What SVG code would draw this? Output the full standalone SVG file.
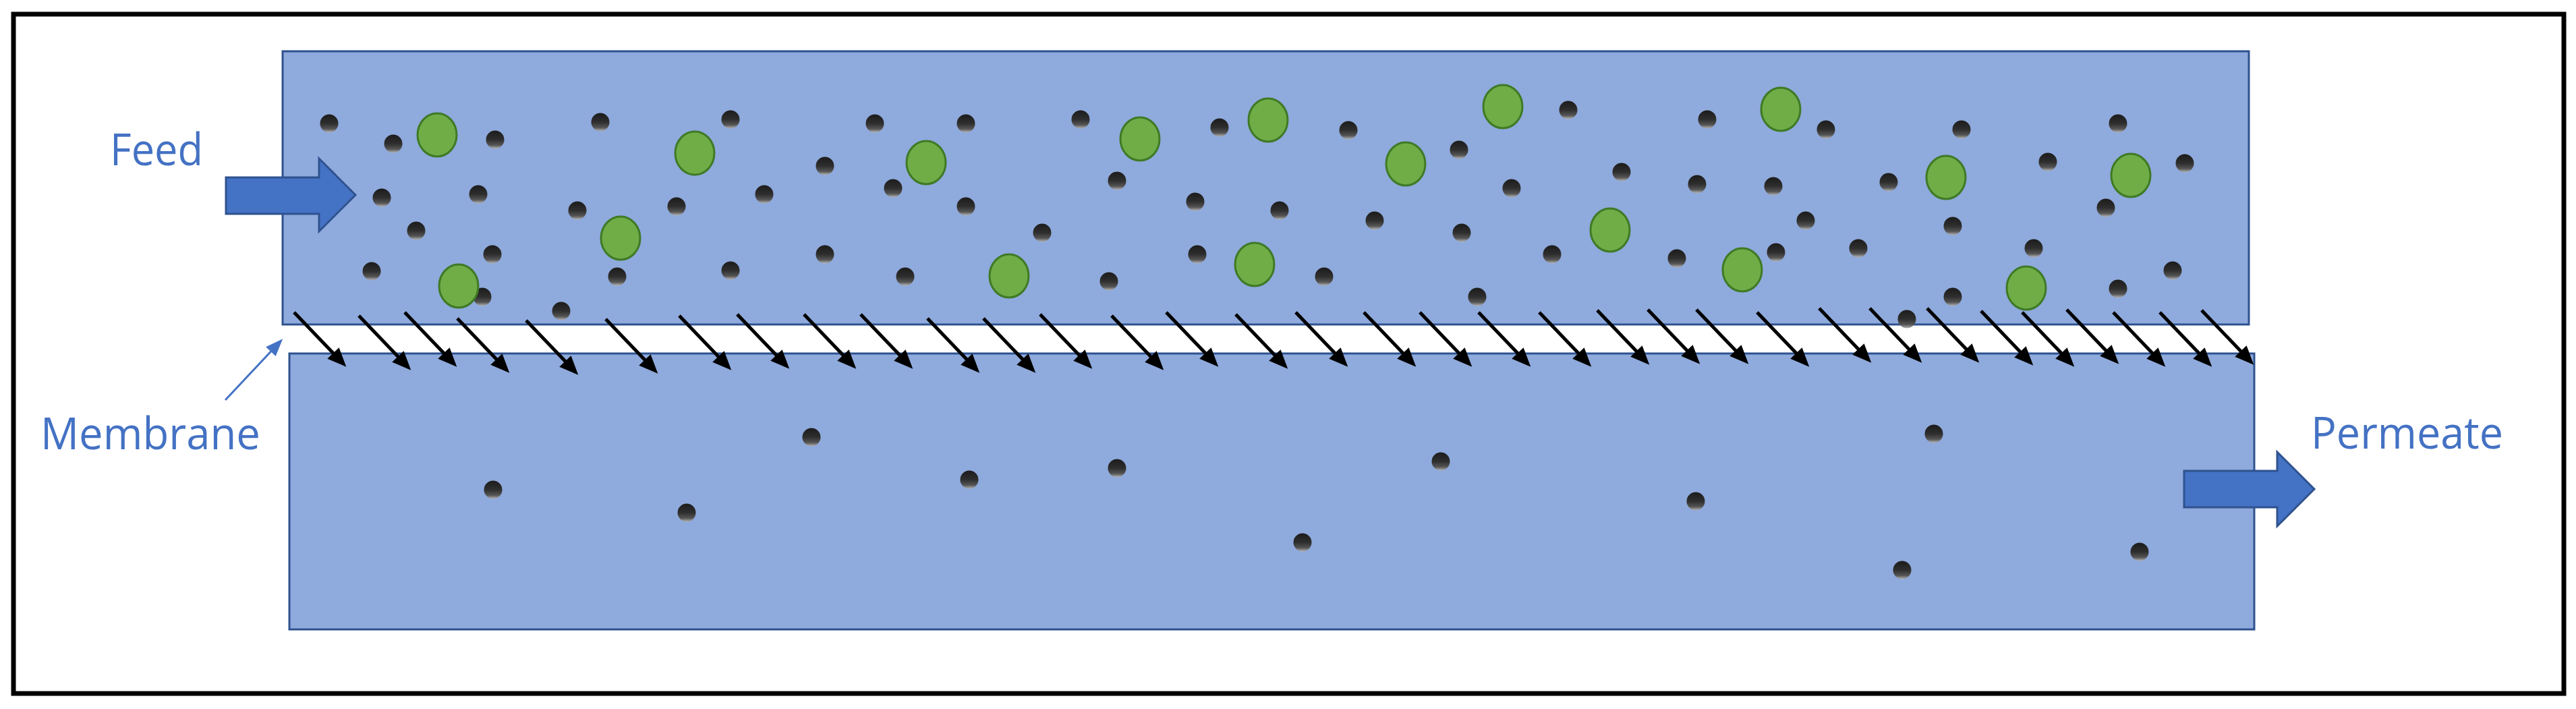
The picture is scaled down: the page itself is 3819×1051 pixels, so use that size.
<svg xmlns="http://www.w3.org/2000/svg" width="3819" height="1051" viewBox="0 0 3819 1051">
<defs>
<linearGradient id="dotg" x1="0" y1="0" x2="0" y2="1">
<stop offset="0" stop-color="#1c1c1c"/>
<stop offset="0.5" stop-color="#2e2e2e"/>
<stop offset="0.8" stop-color="#555"/>
<stop offset="1" stop-color="#b5b5b5"/>
</linearGradient>
<marker id="ah" markerUnits="userSpaceOnUse" markerWidth="44" markerHeight="44" viewBox="-22 -22 44 44" refX="0" refY="0" orient="auto">
<path d="M-16,-12 L12,0 L-16,12 Z" fill="#000"/>
</marker>
<marker id="bh" markerUnits="userSpaceOnUse" markerWidth="40" markerHeight="40" viewBox="-20 -20 40 40" refX="0" refY="0" orient="auto">
<path d="M-14,-10 L12,0 L-14,10 Z" fill="#4472C4"/>
</marker>
</defs>
<style>
.chan{fill:#8FAADC;stroke:#2F528F;stroke-width:3}
.d{fill:url(#dotg)}
.g{fill:#70AD47;stroke:#3F7A26;stroke-width:3}
.lbl{font-family:"Open Sans","Noto Sans","Liberation Sans",sans-serif;fill:#4472C4;font-size:66px}
.blk{fill:#4472C4;stroke:#2F528F;stroke-width:3}
.fl{stroke:#000;stroke-width:5;fill:none;marker-end:url(#ah)}
</style>
<rect x="0" y="0" width="3819" height="1051" fill="#fff"/>
<rect id="frame" x="20" y="21" width="3781" height="1007" fill="none" stroke="#000" stroke-width="7"/>

<g id="feed-channel">
<rect class="chan" x="419" y="76" width="2915" height="405"/>
<g class="d">
<circle cx="488" cy="183" r="13.5"/><circle cx="583" cy="213" r="13.5"/><circle cx="734" cy="207" r="13.5"/><circle cx="890" cy="181" r="13.5"/>
<circle cx="566" cy="293" r="13.5"/><circle cx="709" cy="288" r="13.5"/><circle cx="856" cy="312" r="13.5"/><circle cx="617" cy="342" r="13.5"/>
<circle cx="730" cy="377" r="13.5"/><circle cx="551" cy="402" r="13.5"/><circle cx="715" cy="440" r="13.5"/><circle cx="832" cy="461" r="13.5"/>
<circle cx="1083" cy="177" r="13.5"/><circle cx="1297" cy="183" r="13.5"/><circle cx="1223" cy="246" r="13.5"/><circle cx="1324" cy="279" r="13.5"/>
<circle cx="1133" cy="288" r="13.5"/><circle cx="1003" cy="306" r="13.5"/><circle cx="1223" cy="377" r="13.5"/><circle cx="1083" cy="401" r="13.5"/>
<circle cx="915" cy="410" r="13.5"/><circle cx="1342" cy="410" r="13.5"/>
<circle cx="1432" cy="183" r="13.5"/><circle cx="1602" cy="177" r="13.5"/><circle cx="1808" cy="189" r="13.5"/><circle cx="1656" cy="268" r="13.5"/>
<circle cx="1432" cy="306" r="13.5"/><circle cx="1772" cy="299" r="13.5"/><circle cx="1545" cy="345" r="13.5"/><circle cx="1775" cy="377" r="13.5"/>
<circle cx="1644" cy="417" r="13.5"/>
<circle cx="1999" cy="193" r="13.5"/><circle cx="2325" cy="163" r="13.5"/><circle cx="2163" cy="222" r="13.5"/><circle cx="2241" cy="279" r="13.5"/>
<circle cx="1897" cy="312" r="13.5"/><circle cx="2038" cy="327" r="13.5"/><circle cx="2167" cy="345" r="13.5"/><circle cx="2301" cy="377" r="13.5"/>
<circle cx="1963" cy="410" r="13.5"/><circle cx="2190" cy="440" r="13.5"/>
<circle cx="2531" cy="177" r="13.5"/><circle cx="2707" cy="192" r="13.5"/><circle cx="2404" cy="255" r="13.5"/><circle cx="2516" cy="273" r="13.5"/>
<circle cx="2629" cy="276" r="13.5"/><circle cx="2800" cy="270" r="13.5"/><circle cx="2677" cy="327" r="13.5"/><circle cx="2633" cy="374" r="13.5"/>
<circle cx="2755" cy="368" r="13.5"/><circle cx="2486" cy="383" r="13.5"/><circle cx="2827" cy="473" r="13.5"/>
<circle cx="2908" cy="192" r="13.5"/><circle cx="3036" cy="240" r="13.5"/><circle cx="3140" cy="183" r="13.5"/><circle cx="3239" cy="242" r="13.5"/>
<circle cx="3122" cy="308" r="13.5"/><circle cx="2895" cy="335" r="13.5"/><circle cx="3015" cy="368" r="13.5"/><circle cx="3221" cy="401" r="13.5"/>
<circle cx="3140" cy="428" r="13.5"/><circle cx="2895" cy="440" r="13.5"/>
</g>
<g class="g">
<ellipse cx="648" cy="200" rx="29" ry="32"/><ellipse cx="680" cy="424" rx="29" ry="32"/>
<ellipse cx="1030" cy="227" rx="29" ry="32"/><ellipse cx="920" cy="353" rx="29" ry="32"/><ellipse cx="1373" cy="241" rx="29" ry="32"/>
<ellipse cx="1690" cy="206" rx="29" ry="32"/><ellipse cx="1496" cy="409" rx="29" ry="32"/><ellipse cx="1860" cy="392" rx="29" ry="32"/>
<ellipse cx="1880" cy="178" rx="29" ry="32"/><ellipse cx="2084" cy="243" rx="29" ry="32"/><ellipse cx="2228" cy="158" rx="29" ry="32"/>
<ellipse cx="2640" cy="162" rx="29" ry="32"/><ellipse cx="2387" cy="341" rx="29" ry="32"/><ellipse cx="2583" cy="400" rx="29" ry="32"/>
<ellipse cx="2885" cy="263" rx="29" ry="32"/><ellipse cx="3159" cy="260" rx="29" ry="32"/><ellipse cx="3004" cy="427" rx="29" ry="32"/>
</g>
</g>

<g id="permeate-channel">
<rect class="chan" x="429" y="524" width="2913" height="409"/>
<g class="d">
<circle cx="731" cy="726" r="13.5"/><circle cx="1018" cy="760" r="13.5"/><circle cx="1203" cy="648" r="13.5"/><circle cx="1437" cy="711" r="13.5"/>
<circle cx="1656" cy="694" r="13.5"/><circle cx="1931" cy="804" r="13.5"/><circle cx="2136" cy="684" r="13.5"/><circle cx="2514" cy="743" r="13.5"/>
<circle cx="2867" cy="643" r="13.5"/><circle cx="2820" cy="845" r="13.5"/><circle cx="3172" cy="818" r="13.5"/>
</g>
</g>

<g id="feed-arrow">
<polygon class="blk" points="335,263 473,263 473,235 527,289 473,343 473,317 335,317"/>
</g>
<g id="permeate-arrow">
<polygon class="blk" points="3238,698 3376,698 3376,670 3431,725 3376,780 3376,752 3238,752"/>
</g>

<g id="label-feed"><text class="lbl" x="163" y="245" textLength="138" lengthAdjust="spacingAndGlyphs">Feed</text></g>
<g id="label-membrane"><text class="lbl" x="60" y="666" textLength="326" lengthAdjust="spacingAndGlyphs">Membrane</text></g>
<g id="label-permeate"><text class="lbl" x="3426" y="665" textLength="285" lengthAdjust="spacingAndGlyphs">Permeate</text></g>

<g id="connectors">
<line x1="334" y1="593" x2="411" y2="511" stroke="#4472C4" stroke-width="3" marker-end="url(#bh)"/>
<g class="fl">
<path d="M436,463 l69,72"/><path d="M532,468 l69,72"/><path d="M600,463 l69,72"/><path d="M678,472 l69,72"/>
<path d="M780,475 l69,72"/><path d="M898,473 l69,72"/><path d="M1007,468 l69,72"/><path d="M1093,466 l69,72"/>
<path d="M1192,466 l69,72"/><path d="M1276,466 l69,72"/><path d="M1375,472 l69,72"/><path d="M1458,472 l69,72"/>
<path d="M1542,466 l69,72"/><path d="M1648,468 l69,72"/><path d="M1729,463 l69,72"/><path d="M1832,466 l69,72"/>
<path d="M1921,463 l69,72"/><path d="M2022,463 l69,72"/><path d="M2105,463 l69,72"/><path d="M2192,463 l69,72"/>
<path d="M2282,463 l69,72"/><path d="M2368,460 l69,72"/><path d="M2443,459 l69,72"/><path d="M2515,459 l69,72"/>
<path d="M2605,463 l69,72"/><path d="M2697,457 l69,72"/><path d="M2772,457 l69,72"/><path d="M2857,457 l69,72"/>
<path d="M2937,461 l69,72"/><path d="M2998,463 l69,72"/><path d="M3064,459 l69,72"/><path d="M3133,463 l69,72"/>
<path d="M3202,463 l69,72"/><path d="M3264,460 l69,72"/>
</g>
</g>
</svg>
